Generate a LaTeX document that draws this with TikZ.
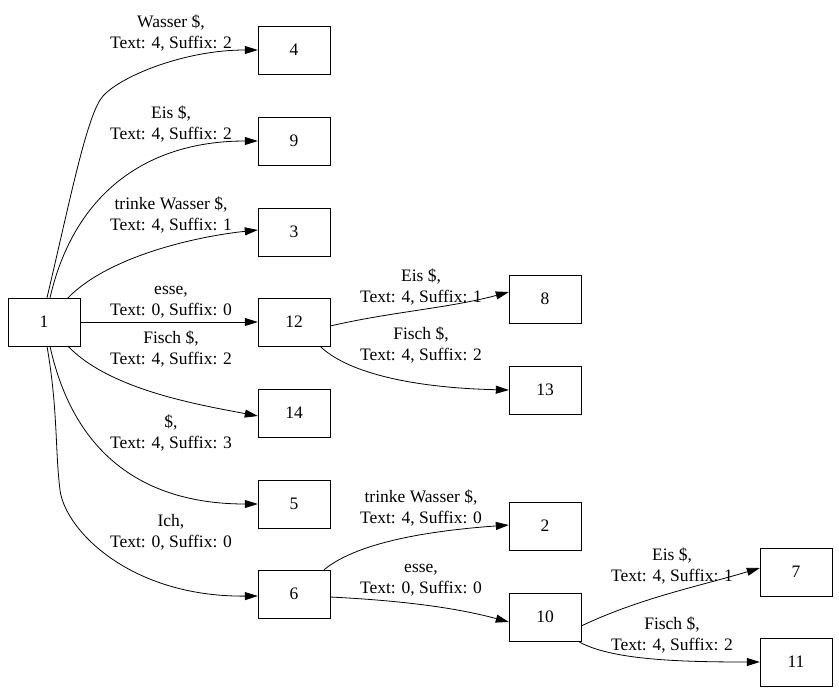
\documentclass[tikz,border=0pt]{standalone}
\usepackage{fontspec}
\setmainfont{Liberation Serif}
\usetikzlibrary{arrows.meta}
\begin{document}
\begin{tikzpicture}[x=1pt,y=-1pt,
  box/.style={draw,minimum width=72pt,minimum height=48pt,inner sep=0pt,font=\fontsize{17.5}{20}\selectfont},
  lbl/.style={align=center,inner sep=0pt,font=\fontsize{17.5}{21}\selectfont},
  edge/.style={-{Triangle[length=13pt,width=8pt]},line width=0.8pt}]
\useasboundingbox (0,0) rectangle (839,694);
\node[box] (n1) at (44,322) {1};
\node[box] (n4) at (294,50) {4};
\node[box] (n9) at (294,141) {9};
\node[box] (n3) at (294,232) {3};
\node[box] (n12) at (294,322) {12};
\node[box] (n14) at (294,413) {14};
\node[box] (n5) at (294,504) {5};
\node[box] (n6) at (294,594) {6};
\node[box] (n8) at (545,299) {8};
\node[box] (n13) at (545,390) {13};
\node[box] (n2) at (545,526) {2};
\node[box] (n10) at (545,617) {10};
\node[box] (n7) at (796,572) {7};
\node[box] (n11) at (796,662) {11};
\node[lbl] (l4) at (171,33) {Wasser \$,\\Text: 4, Suffix: 2};
\node[lbl] (l9) at (171,124) {Eis \$,\\Text: 4, Suffix: 2};
\node[lbl] (l3) at (171,215) {trinke Wasser \$,\\Text: 4, Suffix: 1};
\node[lbl] (l12) at (171,302) {esse,\\Text: 0, Suffix: 0};
\node[lbl] (l14) at (171,349) {Fisch \$,\\Text: 4, Suffix: 2};
\node[lbl] (l5) at (171,433) {\$,\\Text: 4, Suffix: 3};
\node[lbl] (l6) at (171,532) {Ich,\\Text: 0, Suffix: 0};
\node[lbl] (l8) at (421,287) {Eis \$,\\Text: 4, Suffix: 1};
\node[lbl] (l13) at (421,345) {Fisch \$,\\Text: 4, Suffix: 2};
\node[lbl] (l2) at (421,508) {trinke Wasser \$,\\Text: 4, Suffix: 0};
\node[lbl] (l10) at (421,580) {esse,\\Text: 0, Suffix: 0};
\node[lbl] (l7) at (672,566) {Eis \$,\\Text: 4, Suffix: 1};
\node[lbl] (l11) at (672,635) {Fisch \$,\\Text: 4, Suffix: 2};
\draw[edge] ([xshift=3pt]n1.north) .. controls (70,200) and (85,125) .. (100,100) .. controls (112,80) and (180,50) .. (n4.west);
\draw[edge] ([xshift=6pt]n1.north) .. controls (75,190) and (150,141) .. (n9.west);
\draw[edge] ([xshift=24pt]n1.north) .. controls (110,255) and (200,236) .. ([yshift=2pt]n3.west);
\draw[edge] (n1.east) -- (n12.west);
\draw[edge] ([xshift=24pt]n1.south) .. controls (110,390) and (200,405) .. ([yshift=-3pt]n14.west);
\draw[edge] ([xshift=6pt]n1.south) .. controls (75,460) and (150,504) .. (n5.west);
\draw[edge] ([xshift=3pt]n1.south) .. controls (58,410) and (55,450) .. (60,490) .. controls (65,530) and (130,597) .. ([yshift=-2pt]n6.west);
\draw[edge] ([yshift=-4pt]n12.east) .. controls (390,312) and (450,308) .. ([yshift=7pt]n8.west);
\draw[edge] ([xshift=26pt]n12.south) .. controls (350,375) and (420,388) .. (n13.west);
\draw[edge] ([xshift=30pt]n6.north) .. controls (360,540) and (440,530) .. ([yshift=1pt]n2.west);
\draw[edge] ([yshift=-3pt]n6.east) .. controls (390,600) and (450,606) .. ([yshift=-5pt]n10.west);
\draw[edge] ([yshift=-9pt]n10.east) .. controls (640,598) and (700,586) .. ([yshift=4pt]n7.west);
\draw[edge] ([xshift=33pt]n10.south) .. controls (610,660) and (680,662) .. (n11.west);
\end{tikzpicture}
\end{document}
